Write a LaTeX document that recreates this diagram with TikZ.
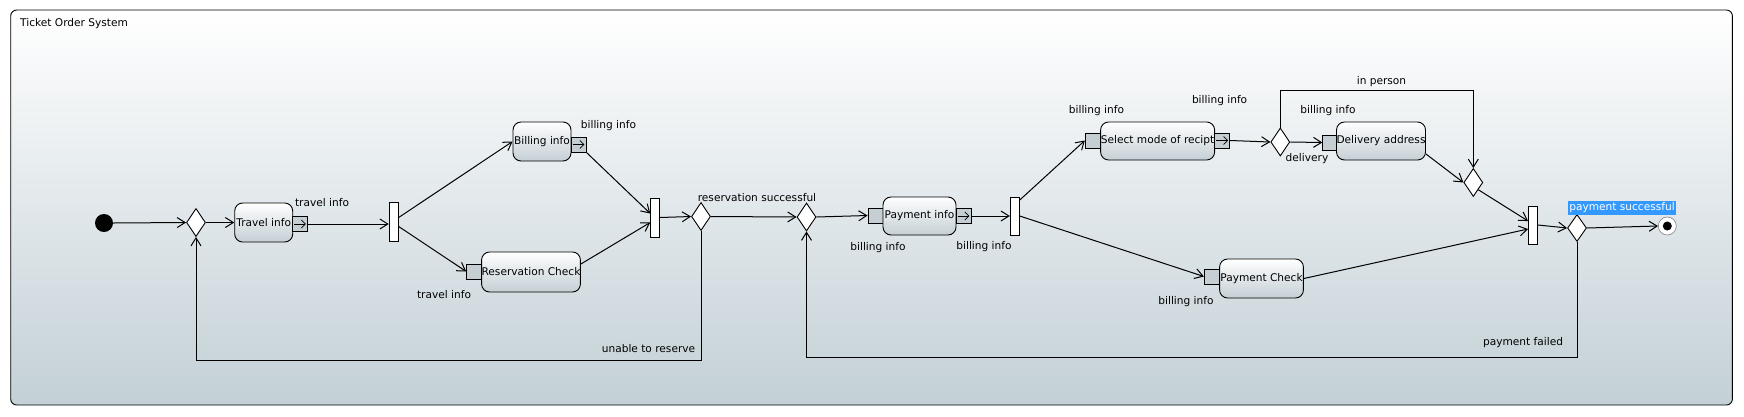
\documentclass[tikz,border=0pt]{standalone}
\usepackage{fontspec}
\setmainfont{DejaVu Sans}
\usetikzlibrary{arrows.meta}
\usetikzlibrary{shapes.geometric}
\definecolor{framebot}{HTML}{C3D0D6}
\definecolor{boxbot}{HTML}{C4CFD5}
\definecolor{pinfill}{HTML}{C4CED3}
\definecolor{selblue}{HTML}{3399FF}

\begin{document}
\begin{tikzpicture}[x=1pt, y=-1pt, font=\fontsize{10.6}{12}\selectfont,
  action/.style={draw, line width=0.9pt, rounded corners=8pt, top color=white, bottom color=boxbot, inner sep=0pt},
  pinbox/.style={draw, line width=0.9pt, fill=pinfill, minimum width=15pt, minimum height=15pt, inner sep=0pt},
  bar/.style={draw, line width=0.9pt, fill=white, minimum width=9pt, minimum height=39pt, inner sep=0pt},
  choice/.style={diamond, draw, line width=0.9pt, fill=white, minimum width=19pt, minimum height=28pt, inner sep=0pt},
  flow/.style={line width=1pt, -{Straight Barb[length=8pt, width=10pt]}},
  pinmark/.style={line width=0.8pt, -{Straight Barb[length=4pt, width=8pt]}},
  tag/.style={inner sep=0pt}]

\useasboundingbox (0,0) rectangle (1744,416);
\shadedraw[line width=0.9pt, rounded corners=6pt, top color=white, bottom color=framebot] (10.7,10) rectangle (1732.4,405);
\node[tag, anchor=west] (title) at (20,24) {Ticket Order System};

% nodes
\node[circle, fill=black, minimum size=18pt, inner sep=0pt] (start) at (104,223) {};
\node[choice] (dec1) at (196,222.5) {};
\node[action, minimum width=58pt, minimum height=39pt] (travel) at (263.7,222.5) {Travel info};
\node[pinbox] (travelout) at (300,224) {};
\node[bar] (fork1) at (393.7,221.5) {};
\node[action, minimum width=58pt, minimum height=39pt] (billing) at (542,141.5) {Billing info};
\node[pinbox] (billout) at (578.5,144.5) {};
\node[action, minimum width=98pt, minimum height=40pt] (rescheck) at (531,272) {Reservation Check};
\node[pinbox] (resin) at (474.2,271.5) {};
\node[bar] (join1) at (655.2,217.5) {};
\node[choice] (dec2) at (701,216.5) {};
\node[choice] (dec3) at (806.5,217) {};
\node[pinbox] (payin) at (875.5,215.5) {};
\node[action, minimum width=73pt, minimum height=38pt] (payinfo) at (919.5,216) {Payment info};
\node[pinbox] (payout) at (963.5,216) {};
\node[bar, minimum height=38pt] (fork2) at (1014.8,216) {};
\node[pinbox] (selin) at (1092.8,140.5) {};
\node[action, minimum width=114pt, minimum height=38pt] (select) at (1157.6,141) {Select mode of recipt};
\node[pinbox] (selout) at (1222.2,140.5) {};
\node[choice] (dec4) at (1280.3,142) {};
\node[pinbox] (delin) at (1330.3,142.5) {};
\node[action, minimum width=86.7pt, minimum height=38pt] (delivery) at (1381,141) {Delivery address};
\node[choice] (dec5) at (1473.3,182.5) {};
\node[pinbox] (pcin) at (1211.8,276.5) {};
\node[action, minimum width=83.8pt, minimum height=39pt] (paycheck) at (1261.5,278.5) {Payment Check};
\node[bar, minimum height=38pt] (join2) at (1533,225) {};
\node[choice, minimum height=27pt] (dec6) at (1577,228) {};
\node[circle, draw=gray, fill=white, minimum size=18pt, inner sep=0pt, line width=0.6pt] (final) at (1667.3,226) {};
\fill (final) circle (4.5pt);

\foreach \p in {travelout,billout,payout,selout}
  \draw[pinmark] ([xshift=2pt]\p.west) -- ([xshift=-2pt]\p.east);

% labels
\node[tag] (lblTravelOut) at (322,203) {travel info};
\node[tag] (lblBillOut) at (608.5,126) {billing info};
\node[tag] (lblResIn) at (444,295) {travel info};
\node[tag] (lblResOk) at (757,198) {reservation successful};
\node[tag] (lblUnable) at (648.5,349) {unable to reserve};
\node[tag] (lblPayIn) at (878,248) {billing info};
\node[tag] (lblPayOut) at (984,247) {billing info};
\node[tag] (lblSelIn) at (1096.5,111) {billing info};
\node[tag] (lblSelOut) at (1219.6,101) {billing info};
\node[tag] (lblPerson) at (1381.5,82) {in person};
\node[tag] (lblDelIn) at (1328,111) {billing info};
\node[tag] (lblDelivery) at (1307,159) {delivery};
\node[tag] (lblPcIn) at (1186,302) {billing info};
\node[tag] (lblFailed) at (1523,343) {payment failed};
\node[fill=selblue, text=white, inner sep=1pt, minimum height=14pt] (lblSuccess) at (1622,208) {payment successful};

% connectors
\coordinate (lowA) at (0,360);
\coordinate (lowB) at (0,357);
\coordinate (highC) at (0,90);

\draw[flow] (start.east) -- (dec1.west);
\draw[flow] (dec1.east) -- (travel.west);
\draw[flow] (travelout.east) -- (travelout.east -| fork1.west);
\draw[flow] ([yshift=4pt]fork1.east) -- (billing.west);
\draw[flow] ([yshift=-5pt]fork1.east) -- (resin.west);
\draw[flow] (billout.south east) -- ([yshift=4pt]join1.west);
\draw[flow] ([yshift=8pt]rescheck.east) -- ([yshift=-5pt]join1.west);
\draw[flow] (join1.east) -- (dec2.west);
\draw[flow] (dec2.east) -- (dec3.west);
\draw[flow] (dec2.south) -- (dec2.south |- lowA) -| (dec1.south);
\draw[flow] (dec3.east) -- (payin.west);
\draw[flow] (payout.east) -- (fork2.west);
\draw[flow] ([yshift=16pt]fork2.east) -- (selin.west);
\draw[flow] (fork2.east) -- (pcin.west);
\draw[flow] (selout.east) -- (dec4.west);
\draw[flow] (dec4.east) -- (delin.west);
\draw[flow] (dec4.north) -- (dec4.north |- highC) -| (dec5.north);
\draw[flow] ([yshift=-13pt]delivery.east) -- (dec5.west);
\draw[flow] (dec5.south east) -- ([yshift=4pt]join2.west);
\draw[flow] (paycheck.east) -- ([yshift=-4pt]join2.west);
\draw[flow] (join2.east) -- (dec6.west);
\draw[flow] (dec6.east) -- (final.west);
\draw[flow] (dec6.south) -- (dec6.south |- lowB) -| (dec3.south);
\end{tikzpicture}
\end{document}
